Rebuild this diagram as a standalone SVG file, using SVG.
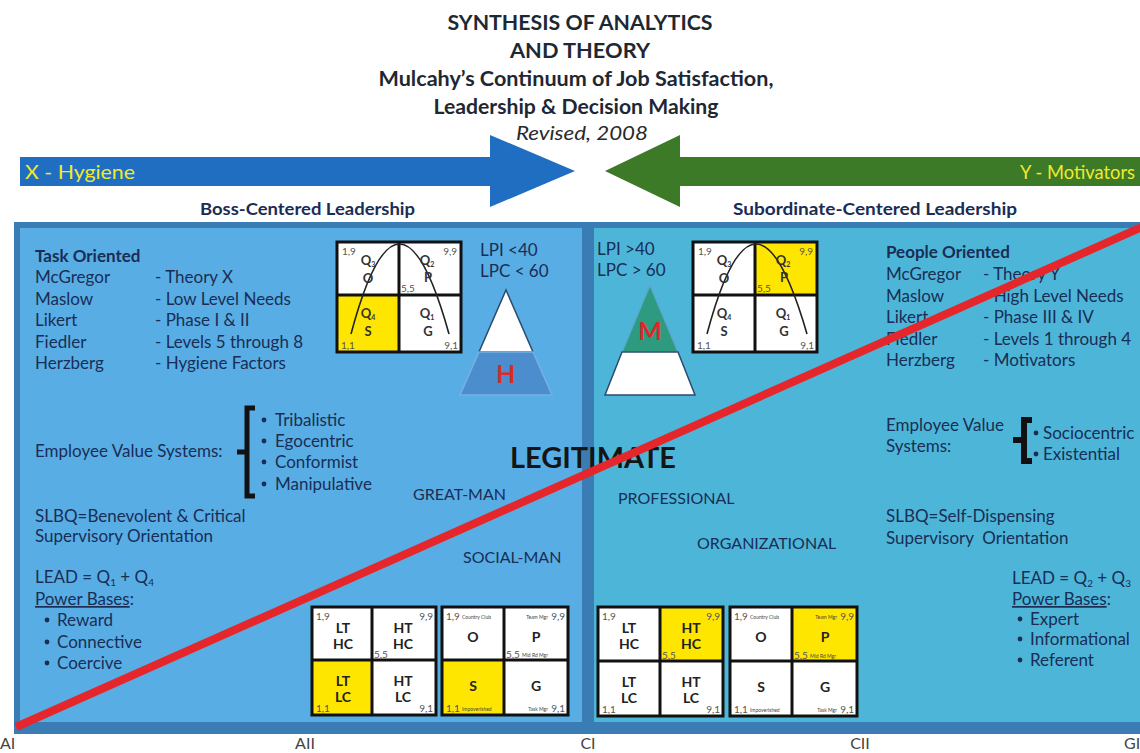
<svg xmlns="http://www.w3.org/2000/svg" width="1140" height="753" viewBox="0 0 1140 753">
  <style>
    text { font-family: Lato, "Open Sans", "Liberation Sans", sans-serif; }
    .title { font-weight: bold; fill: #1e2833; text-anchor: middle; }
    .body { font-size: 17px; fill: #1a2d55; }
    .bold { font-weight: bold; }
    .mid { text-anchor: middle; }
    .end { text-anchor: end; }
    .cell { stroke: none; }
    .gridline { fill: none; stroke: #111; stroke-width: 3; }
    .corner { font-size: 10px; fill: #555; }
    .tiny { font-size: 5px; fill: #444; }
    .q { font-size: 13px; font-weight: bold; fill: #333; text-anchor: middle; }
    .ql { font-size: 14px; font-weight: bold; fill: #222; text-anchor: middle; }
    .axis { font-size: 16px; fill: #444; }
    .dot { fill: #1a2d55; }
  </style>

  <rect x="0" y="0" width="1140" height="753" fill="#ffffff"/>

  <!-- heading -->
  <g id="heading">
    <text class="title" x="580" y="30" font-size="21.5" textLength="265" lengthAdjust="spacingAndGlyphs">SYNTHESIS OF ANALYTICS</text>
    <text class="title" x="580" y="58" font-size="21.5" textLength="140" lengthAdjust="spacingAndGlyphs">AND THEORY</text>
    <text class="title" x="576" y="86" font-size="20" textLength="395" lengthAdjust="spacingAndGlyphs">Mulcahy’s Continuum of Job Satisfaction,</text>
    <text class="title" x="576" y="114" font-size="20.5" textLength="285" lengthAdjust="spacingAndGlyphs">Leadership &amp; Decision Making</text>
    <text x="582" y="140" font-size="20" font-style="italic" fill="#2a2a2a" text-anchor="middle" textLength="132" lengthAdjust="spacingAndGlyphs">Revised, 2008</text>
  </g>

  <!-- direction arrows -->
  <g id="arrow-x">
    <polygon points="20,157 490,157 490,135 575,171 490,207 490,186 20,186" fill="#1f6ec2"/>
    <text x="25" y="179" font-size="19" fill="#f2e82e" textLength="110" lengthAdjust="spacingAndGlyphs">X - Hygiene</text>
  </g>
  <g id="arrow-y">
    <polygon points="1140,157 680,157 680,135 605,171 680,207 680,186 1140,186" fill="#3c7a28"/>
    <text x="1020" y="179" font-size="19" fill="#f2e82e" textLength="115" lengthAdjust="spacingAndGlyphs">Y - Motivators</text>
  </g>

  <text class="body bold" x="200" y="215" font-size="17" textLength="215" lengthAdjust="spacingAndGlyphs">Boss-Centered Leadership</text>
  <text class="body bold" x="733" y="215" font-size="17" textLength="284" lengthAdjust="spacingAndGlyphs">Subordinate-Centered Leadership</text>

  <!-- panels -->
  <g id="panels">
    <rect x="14" y="222" width="1126" height="512" fill="#3a7cb4"/>
    <rect x="20" y="228" width="562" height="494" fill="#58aee4"/>
    <rect x="594" y="228" width="546" height="494" fill="#4db6d8"/>
  </g>

  <!-- left column -->
  <g id="task-oriented" class="body">
    <text class="bold" x="35" y="262">Task Oriented</text>
    <text x="35" y="283">McGregor</text><text x="155" y="283">- Theory X</text>
    <text x="35" y="305">Maslow</text><text x="155" y="305">- Low Level Needs</text>
    <text x="35" y="326">Likert</text><text x="155" y="326">- Phase I &amp; II</text>
    <text x="35" y="348">Fiedler</text><text x="155" y="348">- Levels 5 through 8</text>
    <text x="35" y="369">Herzberg</text><text x="155" y="369">- Hygiene Factors</text>
  </g>

  <g id="lpi-low" class="body">
    <text x="480" y="256">LPI &lt;40</text>
    <text x="480" y="277">LPC &lt; 60</text>
  </g>

  <!-- managerial grid, boss-centered -->
  <g id="grid-boss" transform="translate(337,242)">
    <rect class="cell" x="0" y="0" width="62" height="53" fill="#fff"/>
    <rect class="cell" x="62" y="0" width="62" height="53" fill="#fff"/>
    <rect class="cell" x="0" y="53" width="62" height="57" fill="#ffe600"/>
    <rect class="cell" x="62" y="53" width="62" height="57" fill="#fff"/>
    <rect class="gridline" x="0" y="0" width="124" height="110"/>
    <path class="gridline" d="M62,0V110M0,53H124"/>
    <path d="M14,92 Q62,-88 112,92" fill="none" stroke="#222" stroke-width="1.6"/>
    <text class="corner" x="5" y="13">1,9</text>
    <text class="corner end" x="120" y="13">9,9</text>
    <text class="corner" x="64" y="50">5,5</text>
    <text class="corner" x="4" y="107">1,1</text>
    <text class="corner end" x="121" y="107">9,1</text>
    <text class="q" x="31" y="23">Q<tspan font-size="7" dy="2">3</tspan></text>
    <text class="q" x="31" y="41">O</text>
    <text class="q" x="90" y="23">Q<tspan font-size="7" dy="2">2</tspan></text>
    <text class="q" x="91" y="40">P</text>
    <text class="q" x="31" y="76">Q<tspan font-size="7" dy="2">4</tspan></text>
    <text class="q" x="31" y="94">S</text>
    <text class="q" x="90" y="76">Q<tspan font-size="7" dy="2">1</tspan></text>
    <text class="q" x="91" y="94">G</text>
  </g>

  <!-- hygiene pyramid -->
  <g id="pyramid-h">
    <polygon points="506,290 533,352 479,352" fill="#ffffff" stroke="#2c4a6e" stroke-width="1.5"/>
    <polygon points="479,352 533,352 552,395 460,395" fill="#4b8dcd" stroke="#78b0e3" stroke-width="1.5"/>
    <text x="506" y="383" font-size="25" font-weight="bold" fill="#e3262b" text-anchor="middle">H</text>
  </g>

  <g id="value-systems-left" class="body">
    <text x="35" y="457">Employee Value Systems:</text>
    <path d="M255,408 H247 V496 H255 M247,452 H237" fill="none" stroke="#111" stroke-width="5"/>
    <circle class="dot" cx="264" cy="420" r="2.4"/>
    <circle class="dot" cx="264" cy="441" r="2.4"/>
    <circle class="dot" cx="264" cy="462" r="2.4"/>
    <circle class="dot" cx="264" cy="484" r="2.4"/>
    <text x="275" y="426">Tribalistic</text>
    <text x="275" y="447">Egocentric</text>
    <text x="275" y="468">Conformist</text>
    <text x="275" y="490">Manipulative</text>
  </g>

  <g id="slbq-left" class="body">
    <text x="35" y="522">SLBQ=Benevolent &amp; Critical</text>
    <text x="35" y="542">Supervisory Orientation</text>
  </g>

  <g id="lead-left" class="body">
    <text x="35" y="583">LEAD = Q<tspan font-size="10" dy="3">1</tspan><tspan dy="-3"> + Q</tspan><tspan font-size="10" dy="3">4</tspan></text>
    <text x="35" y="605"><tspan text-decoration="underline">Power Bases</tspan>:</text>
    <circle class="dot" cx="47" cy="620" r="2.4"/>
    <circle class="dot" cx="47" cy="642" r="2.4"/>
    <circle class="dot" cx="47" cy="663" r="2.4"/>
    <text x="57" y="626">Reward</text>
    <text x="57" y="648">Connective</text>
    <text x="57" y="669">Coercive</text>
  </g>

  <!-- centre labels -->
  <g id="styles-center" class="body">
    <text x="413" y="500" font-size="16">GREAT-MAN</text>
    <text x="463" y="563" font-size="16">SOCIAL-MAN</text>
    <text x="618" y="504" font-size="16">PROFESSIONAL</text>
    <text x="697" y="549" font-size="16">ORGANIZATIONAL</text>
  </g>
  <text id="legitimate" x="510" y="468" font-size="29" font-weight="bold" fill="#151515" textLength="166" lengthAdjust="spacingAndGlyphs">LEGITIMATE</text>

  <!-- bottom grids, boss-centered -->
  <g id="grid-tc-boss" transform="translate(312,607)">
    <rect class="cell" x="0" y="0" width="124" height="108" fill="#fff"/>
    <rect class="cell" x="0" y="53" width="60" height="55" fill="#ffe600"/>
    <rect class="gridline" x="0" y="0" width="124" height="108"/>
    <path class="gridline" d="M60,0V108M0,53H124"/>
    <text class="corner" x="4" y="13">1,9</text>
    <text class="corner end" x="121" y="13">9,9</text>
    <text class="corner" x="62" y="51">5,5</text>
    <text class="corner" x="4" y="105">1,1</text>
    <text class="corner end" x="121" y="105">9,1</text>
    <text class="ql" x="31" y="26">LT</text><text class="ql" x="31" y="42">HC</text>
    <text class="ql" x="91" y="26">HT</text><text class="ql" x="91" y="42">HC</text>
    <text class="ql" x="31" y="79">LT</text><text class="ql" x="31" y="95">LC</text>
    <text class="ql" x="91" y="79">HT</text><text class="ql" x="91" y="95">LC</text>
  </g>

  <g id="grid-style-boss" transform="translate(442,607)">
    <rect class="cell" x="0" y="0" width="126" height="108" fill="#fff"/>
    <rect class="cell" x="0" y="53" width="62" height="55" fill="#ffe600"/>
    <rect class="gridline" x="0" y="0" width="126" height="108"/>
    <path class="gridline" d="M62,0V108M0,53H126"/>
    <text class="corner" x="4" y="13">1,9</text><text class="tiny" x="20" y="12">Country Club</text>
    <text class="tiny end" x="106" y="12">Team Mgr</text><text class="corner end" x="123" y="13">9,9</text>
    <text class="corner" x="64" y="51">5,5</text><text class="tiny" x="80" y="50">Mid Rd Mgr</text>
    <text class="corner" x="4" y="105">1,1</text><text class="tiny" x="20" y="104">Impoverished</text>
    <text class="tiny end" x="106" y="104">Task Mgr</text><text class="corner end" x="123" y="105">9,1</text>
    <text class="ql" x="31" y="35">O</text>
    <text class="ql" x="94" y="35">P</text>
    <text class="ql" x="31" y="84">S</text>
    <text class="ql" x="94" y="84">G</text>
  </g>

  <!-- right column -->
  <g id="lpi-high" class="body">
    <text x="597" y="255">LPI &gt;40</text>
    <text x="597" y="276">LPC &gt; 60</text>
  </g>

  <!-- managerial grid, subordinate-centered -->
  <g id="grid-sub" transform="translate(693,242)">
    <rect class="cell" x="0" y="0" width="62" height="53" fill="#fff"/>
    <rect class="cell" x="62" y="0" width="62" height="53" fill="#ffe600"/>
    <rect class="cell" x="0" y="53" width="62" height="57" fill="#fff"/>
    <rect class="cell" x="62" y="53" width="62" height="57" fill="#fff"/>
    <rect class="gridline" x="0" y="0" width="124" height="110"/>
    <path class="gridline" d="M62,0V110M0,53H124"/>
    <path d="M14,92 Q62,-88 114,92" fill="none" stroke="#222" stroke-width="1.6"/>
    <text class="corner" x="5" y="13">1,9</text>
    <text class="corner end" x="120" y="13">9,9</text>
    <text class="corner" x="64" y="50">5,5</text>
    <text class="corner" x="4" y="107">1,1</text>
    <text class="corner end" x="121" y="107">9,1</text>
    <text class="q" x="31" y="23">Q<tspan font-size="7" dy="2">3</tspan></text>
    <text class="q" x="31" y="41">O</text>
    <text class="q" x="90" y="23">Q<tspan font-size="7" dy="2">2</tspan></text>
    <text class="q" x="91" y="40">P</text>
    <text class="q" x="31" y="76">Q<tspan font-size="7" dy="2">4</tspan></text>
    <text class="q" x="31" y="94">S</text>
    <text class="q" x="90" y="76">Q<tspan font-size="7" dy="2">1</tspan></text>
    <text class="q" x="91" y="94">G</text>
  </g>

  <!-- motivator pyramid -->
  <g id="pyramid-m">
    <polygon points="650,285 678,352 622,352" fill="#2e9a80" stroke="#5aa9d0" stroke-width="1.5"/>
    <polygon points="622,352 678,352 695,395 605,395" fill="#ffffff" stroke="#2c4a6e" stroke-width="1.5"/>
    <text x="650" y="340" font-size="25" font-weight="bold" fill="#e3262b" text-anchor="middle">M</text>
  </g>

  <g id="people-oriented" class="body">
    <text class="bold" x="886" y="258">People Oriented</text>
    <text x="886" y="280">McGregor</text><text x="983" y="280">- Theory Y</text>
    <text x="886" y="302">Maslow</text><text x="983" y="302">- High Level Needs</text>
    <text x="886" y="323">Likert</text><text x="983" y="323">- Phase III &amp; IV</text>
    <text x="886" y="345">Fiedler</text><text x="983" y="345">- Levels 1 through 4</text>
    <text x="886" y="366">Herzberg</text><text x="983" y="366">- Motivators</text>
  </g>

  <g id="value-systems-right" class="body">
    <text x="886" y="431">Employee Value</text>
    <text x="886" y="452">Systems:</text>
    <path d="M1032,420 H1024 V461 H1032 M1024,440 H1013" fill="none" stroke="#111" stroke-width="6"/>
    <circle class="dot" cx="1036" cy="433" r="2.4"/>
    <circle class="dot" cx="1036" cy="454" r="2.4"/>
    <text x="1043" y="439">Sociocentric</text>
    <text x="1043" y="460">Existential</text>
  </g>

  <g id="slbq-right" class="body">
    <text x="886" y="522">SLBQ=Self-Dispensing</text>
    <text x="886" y="544" xml:space="preserve">Supervisory  Orientation</text>
  </g>

  <g id="lead-right" class="body">
    <text x="1012" y="584">LEAD = Q<tspan font-size="10" dy="3">2</tspan><tspan dy="-3"> + Q</tspan><tspan font-size="10" dy="3">3</tspan></text>
    <text x="1012" y="605"><tspan text-decoration="underline">Power Bases</tspan>:</text>
    <circle class="dot" cx="1020" cy="619" r="2.4"/>
    <circle class="dot" cx="1020" cy="639" r="2.4"/>
    <circle class="dot" cx="1020" cy="660" r="2.4"/>
    <text x="1030" y="625">Expert</text>
    <text x="1030" y="645">Informational</text>
    <text x="1030" y="666">Referent</text>
  </g>

  <!-- bottom grids, subordinate-centered -->
  <g id="grid-tc-sub" transform="translate(598,607)">
    <rect class="cell" x="0" y="0" width="125" height="109" fill="#fff"/>
    <rect class="cell" x="62" y="0" width="63" height="54" fill="#ffe600"/>
    <rect class="gridline" x="0" y="0" width="125" height="109"/>
    <path class="gridline" d="M62,0V109M0,54H125"/>
    <text class="corner" x="4" y="13">1,9</text>
    <text class="corner end" x="122" y="13">9,9</text>
    <text class="corner" x="64" y="52">5,5</text>
    <text class="corner" x="4" y="106">1,1</text>
    <text class="corner end" x="122" y="106">9,1</text>
    <text class="ql" x="31" y="26">LT</text><text class="ql" x="31" y="42">HC</text>
    <text class="ql" x="93" y="26">HT</text><text class="ql" x="93" y="42">HC</text>
    <text class="ql" x="31" y="80">LT</text><text class="ql" x="31" y="96">LC</text>
    <text class="ql" x="93" y="80">HT</text><text class="ql" x="93" y="96">LC</text>
  </g>

  <g id="grid-style-sub" transform="translate(730,607)">
    <rect class="cell" x="0" y="0" width="127" height="109" fill="#fff"/>
    <rect class="cell" x="62" y="0" width="65" height="54" fill="#ffe600"/>
    <rect class="gridline" x="0" y="0" width="127" height="109"/>
    <path class="gridline" d="M62,0V109M0,54H127"/>
    <text class="corner" x="4" y="13">1,9</text><text class="tiny" x="20" y="12">Country Club</text>
    <text class="tiny end" x="107" y="12">Team Mgr</text><text class="corner end" x="124" y="13">9,9</text>
    <text class="corner" x="64" y="52">5,5</text><text class="tiny" x="80" y="51">Mid Rd Mgr</text>
    <text class="corner" x="4" y="106">1,1</text><text class="tiny" x="20" y="105">Impoverished</text>
    <text class="tiny end" x="107" y="105">Task Mgr</text><text class="corner end" x="124" y="106">9,1</text>
    <text class="ql" x="31" y="35">O</text>
    <text class="ql" x="95" y="35">P</text>
    <text class="ql" x="31" y="85">S</text>
    <text class="ql" x="95" y="85">G</text>
  </g>

  <!-- continuum diagonal -->
  <g id="connectors">
    <line x1="16" y1="727" x2="1142" y2="227" stroke="#e5262a" stroke-width="8"/>
  </g>

  <!-- decision-style scale -->
  <g id="axis" class="axis">
    <text x="0" y="749">AI</text>
    <text x="305" y="749" text-anchor="middle">AII</text>
    <text x="588" y="749" text-anchor="middle">CI</text>
    <text x="860" y="749" text-anchor="middle">CII</text>
    <text x="1124" y="749">GII</text>
  </g>
</svg>
